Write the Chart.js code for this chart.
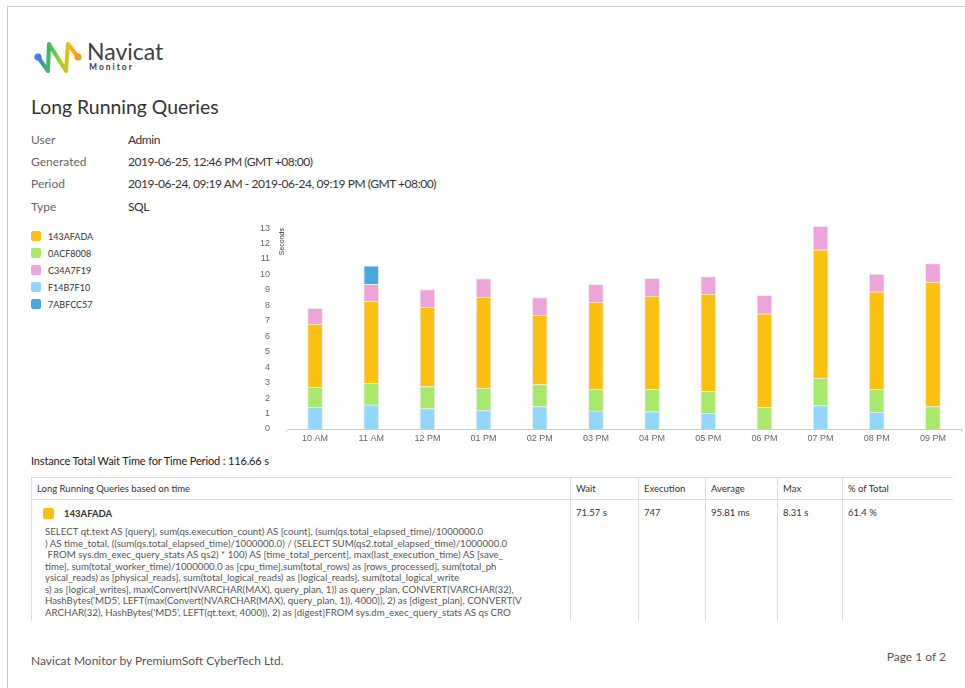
<!DOCTYPE html>
<html>
<head>
<meta charset="utf-8">
<title>Long Running Queries</title>
<script src="https://cdn.jsdelivr.net/npm/chart.js@4/dist/chart.umd.min.js"></script>
<style>
  html, body { margin: 0; padding: 0; background: #fff; }
  body {
    width: 965px; height: 688px; overflow: hidden; position: relative;
    font-family: Lato, "Open Sans", sans-serif; color: #333;
  }
  .frame {
    position: absolute; left: 7px; top: 6px; width: 1000px; height: 720px;
    border-left: 1px solid #ccc; border-top: 1px solid #ccc;
  }
  .abs { position: absolute; white-space: nowrap; }
  #logo { position: absolute; left: 0; top: 0; }
  h1 {
    position: absolute; left: 31px; top: 96px; margin: 0;
    font-size: 19.4px; font-weight: normal; line-height: 22.8px; color: #333;
  }
  .info { position: absolute; left: 31px; top: 129px; width: 500px; font-size: 12px; }
  .info .row { height: 22.2px; line-height: 22.2px; position: relative; white-space: nowrap; }
  .info .k { color: #666; }
  .info .v { position: absolute; left: 97px; top: 0; color: #333; white-space: nowrap; letter-spacing: -0.45px; }
  #legend { position: absolute; left: 31px; top: 227.5px; }
  #legend .item { height: 17px; display: flex; align-items: center; font-size: 9px; color: #333; }
  #legend .sw { width: 10px; height: 10px; border-radius: 2px; margin-right: 7px; }
  #chartBox { position: absolute; left: 240px; top: 215px; width: 724px; height: 235px; }
  .total { left: 31px; top: 453px; font-size: 11px; line-height: 16px; color: #222; letter-spacing: -0.15px; }
  .tbl {
    position: absolute; left: 31px; top: 477px; width: 922px; height: 144px; overflow: hidden;
  }
  table { border-collapse: collapse; table-layout: fixed; width: 922px; font-size: 9.5px; }
  th, td { border: 1px solid #ddd; text-align: left; padding: 0 0 0 5px; color: #333; }
  th { height: 21px; font-weight: normal; }
  td { vertical-align: top; height: 200px; }
  td .val { margin-top: 6px; line-height: 14px; }
  .qname { display: flex; align-items: center; margin-top: 6px; margin-left: 6px; height: 14px; }
  .qname .sw { width: 11px; height: 11px; border-radius: 2px; margin-right: 10px; }
  .qname span { font-weight: bold; color: #333; }
  .sql { margin: 6px 0 0 8px; line-height: 11.57px; font-size: 9.7px; color: #555; white-space: pre; }
  .foot { left: 31px; top: 652px; font-size: 12px; line-height: 18px; color: #555; }
  .pageno { right: 19px; top: 648px; font-size: 12px; line-height: 18px; color: #555; }
</style>
</head>
<body>
<div class="frame"></div>

<svg id="logo" width="200" height="90">
  <defs>
    <linearGradient id="nv" gradientUnits="userSpaceOnUse" x1="38" y1="0" x2="78" y2="0">
      <stop offset="0" stop-color="#3f7fe6"/>
      <stop offset="0.3" stop-color="#3fbf5a"/>
      <stop offset="0.55" stop-color="#9bd21f"/>
      <stop offset="0.8" stop-color="#f6b81a"/>
      <stop offset="1" stop-color="#f59a1b"/>
    </linearGradient>
  </defs>
  <polyline points="38,57 48,71 49,44 66,71 68,44 78,57" fill="none" stroke="url(#nv)"
            stroke-width="4" stroke-linejoin="round" stroke-linecap="round"/>
  <circle cx="38" cy="57" r="3.6" fill="#3f7fe6"/>
  <circle cx="78" cy="57" r="3.6" fill="#f59a1b"/>
  <text x="87" y="60" font-family="Lato, 'Open Sans', sans-serif" font-size="23" fill="#3c4146">Navicat</text>
  <text x="89" y="70" font-family="Lato, 'Open Sans', sans-serif" font-size="8.5" font-weight="bold"
        letter-spacing="2" fill="#3c4146">Monitor</text>
</svg>

<h1>Long Running Queries</h1>

<div class="info">
  <div class="row"><span class="k">User</span><span class="v">Admin</span></div>
  <div class="row"><span class="k">Generated</span><span class="v">2019-06-25, 12:46 PM (GMT +08:00)</span></div>
  <div class="row"><span class="k">Period</span><span class="v">2019-06-24, 09:19 AM - 2019-06-24, 09:19 PM (GMT +08:00)</span></div>
  <div class="row"><span class="k">Type</span><span class="v">SQL</span></div>
</div>

<div id="legend"></div>

<div id="chartBox"><canvas id="chart" width="724" height="235"></canvas></div>

<div class="abs total">Instance Total Wait Time for Time Period : 116.66 s</div>

<div class="tbl">
  <table>
    <colgroup>
      <col style="width:539px"><col style="width:68px"><col style="width:67px">
      <col style="width:72px"><col style="width:65px"><col style="width:111px">
    </colgroup>
    <tr>
      <th>Long Running Queries based on time</th><th>Wait</th><th>Execution</th>
      <th>Average</th><th>Max</th><th>% of Total</th>
    </tr>
    <tr>
      <td>
        <div class="qname"><div class="sw" style="background:#fec010"></div><span>143AFADA</span></div>
        <div class="sql">SELECT qt.text AS [query], sum(qs.execution_count) AS [count], (sum(qs.total_elapsed_time)/1000000.0
) AS time_total, ((sum(qs.total_elapsed_time)/1000000.0) / (SELECT SUM(qs2.total_elapsed_time)/1000000.0
 FROM sys.dm_exec_query_stats AS qs2) * 100) AS [time_total_percent], max(last_execution_time) AS [save_
time], sum(total_worker_time)/1000000.0 as [cpu_time],sum(total_rows) as [rows_processed], sum(total_ph
ysical_reads) as [physical_reads], sum(total_logical_reads) as [logical_reads], sum(total_logical_write
s) as [logical_writes], max(Convert(NVARCHAR(MAX), query_plan, 1)) as query_plan, CONVERT(VARCHAR(32),
HashBytes('MD5', LEFT(max(Convert(NVARCHAR(MAX), query_plan, 1)), 4000)), 2) as [digest_plan], CONVERT(V
ARCHAR(32), HashBytes('MD5', LEFT(qt.text, 4000)), 2) as [digest]FROM sys.dm_exec_query_stats AS qs CRO</div>
      </td>
      <td><div class="val">71.57 s</div></td>
      <td><div class="val">747</div></td>
      <td><div class="val">95.81 ms</div></td>
      <td><div class="val">8.31 s</div></td>
      <td><div class="val">61.4 %</div></td>
    </tr>
  </table>
</div>

<div class="abs foot">Navicat Monitor by PremiumSoft CyberTech Ltd.</div>
<div class="abs pageno">Page 1 of 2</div>

<script>
// hourly buckets
const hours = ['10 AM', '11 AM', '12 PM', '01 PM', '02 PM', '03 PM',
               '04 PM', '05 PM', '06 PM', '07 PM', '08 PM', '09 PM'];

// wait time per query digest, seconds (stack order bottom -> top)
const waitF14B7F10 = [1.40, 1.56, 1.32, 1.19, 1.45, 1.17, 1.13, 1.02, null, 1.52, 1.10, null];
const wait0ACF8008 = [1.32, 1.40, 1.43, 1.45, 1.43, 1.42, 1.44, 1.42, 1.41, 1.77, 1.47, 1.45];
const wait143AFADA = [4.07, 5.30, 5.14, 5.89, 4.49, 5.63, 6.03, 6.29, 6.05, 8.31, 6.31, 8.06];
const waitC34A7F19 = [1.01, 1.10, 1.13, 1.21, 1.13, 1.14, 1.15, 1.13, 1.19, 1.51, 1.15, 1.19];
const wait7ABFCC57 = [null, 1.19, null, null, null, null, null, null, null, null, null, null];

const yTicks = [0, 1, 2, 3, 4, 5, 6, 7, 8, 9, 10, 11, 12, 13];

const series = [
  { name: '143AFADA', color: '#fec010', data: wait143AFADA },
  { name: '0ACF8008', color: '#a8e86a', data: wait0ACF8008 },
  { name: 'C34A7F19', color: '#eca4d9', data: waitC34A7F19 },
  { name: 'F14B7F10', color: '#92d8fc', data: waitF14B7F10 },
  { name: '7ABFCC57', color: '#44a9dc', data: wait7ABFCC57 }
];
const stackOrder = ['F14B7F10', '0ACF8008', '143AFADA', 'C34A7F19', '7ABFCC57'];

// legend on the left, same order as the report
const legend = document.getElementById('legend');
series.forEach(s => {
  const item = document.createElement('div');
  item.className = 'item';
  item.innerHTML = '<div class="sw" style="background:' + s.color + '"></div>' + s.name;
  legend.appendChild(item);
});

// small rotated unit label next to the top of the value axis
const axisTitle = {
  id: 'axisTitle',
  afterDraw(chart) {
    const { ctx, chartArea } = chart;
    ctx.save();
    ctx.translate(chartArea.left - 5, chartArea.top + 3);
    ctx.rotate(-Math.PI / 2);
    ctx.font = '7px "Liberation Sans", Arial, sans-serif';
    ctx.fillStyle = '#333';
    ctx.textAlign = 'right';
    ctx.textBaseline = 'middle';
    ctx.fillText('Seconds', 0, 0);
    ctx.restore();
  }
};

const tickFont = { family: '"Liberation Sans", Arial, sans-serif', size: 9 };

new Chart(document.getElementById('chart'), {
  type: 'bar',
  data: {
    labels: hours,
    datasets: stackOrder.map(name => {
      const s = series.find(x => x.name === name);
      return {
        label: s.name,
        data: s.data,
        backgroundColor: s.color,
        borderColor: '#eeeeee',
        borderWidth: 1,
        barThickness: 15
      };
    })
  },
  options: {
    responsive: false,
    animation: false,
    layout: { padding: { top: 10, right: 3, bottom: 0, left: 0 } },
    plugins: { legend: { display: false }, tooltip: { enabled: false } },
    scales: {
      x: {
        stacked: true,
        offset: true,
        grid: {
          offset: true,
          drawOnChartArea: false,
          tickLength: 3,
          color: c => (c.type === 'scale' || c.index === 0) ? '#cccccc' : 'rgba(0,0,0,0)'
        },
        border: { color: '#cccccc', width: 1 },
        ticks: { color: '#666', font: tickFont, padding: 1, maxRotation: 0, autoSkip: false },
        afterFit: s => { s.height = 21; }
      },
      y: {
        stacked: true,
        min: 0,
        max: 13.2,
        // hidden grid; tickLength only sets the gap between labels and the plot
        grid: { display: false, drawTicks: true, tickLength: 17 },
        border: { display: false },
        ticks: { color: '#666', font: tickFont, padding: 0, stepSize: 1 },
        afterBuildTicks: s => { s.ticks = yTicks.map(v => ({ value: v })); },
        afterFit: s => { s.width = 47; }
      }
    }
  },
  plugins: [axisTitle]
});
</script>
</body>
</html>
